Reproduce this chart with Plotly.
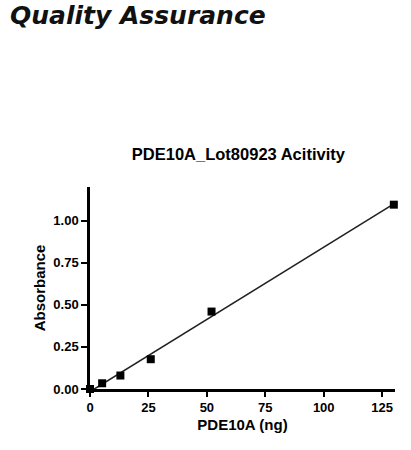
import numpy as np
import plotly.graph_objects as go

# PDE10A amount (ng) vs absorbance
amount_ng = [0, 5.2, 13, 26, 52, 130]
absorbance = [0.0, 0.034, 0.08, 0.177, 0.46, 1.095]

x_ticks = [0, 25, 50, 75, 100, 125]
y_ticks = [0.0, 0.25, 0.5, 0.75, 1.0]

# linear fit drawn over the data range
slope, intercept = np.polyfit(amount_ng, absorbance, 1)
fit_x = [0, 130]
fit_y = [intercept + slope * v for v in fit_x]

fig = go.Figure()
fig.add_trace(go.Scatter(
    x=fit_x, y=fit_y, mode="lines",
    line=dict(color="#222222", width=1.6),
    hoverinfo="skip",
))
fig.add_trace(go.Scatter(
    x=amount_ng, y=absorbance, mode="markers",
    marker=dict(symbol="square", size=8, color="black"),
    cliponaxis=False,
))

axis_font = dict(family="Liberation Sans, Arial", size=13, color="black")
title_font = dict(family="Liberation Sans, Arial", size=15, color="black")

fig.update_layout(
    width=411, height=450,
    margin=dict(l=90, r=16, t=187, b=61),
    paper_bgcolor="white", plot_bgcolor="white",
    showlegend=False,
    font=dict(family="Liberation Sans, Arial", color="black"),
    title=dict(
        text="<b>PDE10A_Lot80923 Acitivity</b>",
        x=0.58, xanchor="center", y=1 - 154 / 450, yanchor="middle",
        font=dict(family="Liberation Sans, Arial", size=16.5, color="black"),
    ),
    annotations=[dict(
        text="<b><i>Quality Assurance</i></b>",
        xref="paper", yref="paper", x=-82 / 305, y=1 + (187 - 15) / 202,
        xanchor="left", yanchor="middle", showarrow=False,
        font=dict(family="DejaVu Sans, Verdana", size=25, color="#111111"),
    )],
)

fig.update_xaxes(
    range=[0, 130.5], tickvals=x_ticks, ticktext=[f"<b>{t}</b>" for t in x_ticks],
    showgrid=False, zeroline=False, showline=True, linecolor="black", linewidth=2.5,
    ticks="outside", ticklen=5, tickwidth=2, tickcolor="black",
    tickfont=axis_font,
    title=dict(text="<b>PDE10A (ng)</b>", font=title_font, standoff=6),
)
fig.update_yaxes(
    range=[0, 1.2], tickvals=y_ticks, ticktext=[f"<b>{t:.2f}</b>" for t in y_ticks],
    showgrid=False, zeroline=False, showline=True, linecolor="black", linewidth=2.5,
    ticks="outside", ticklen=6, tickwidth=2, tickcolor="black",
    tickfont=axis_font,
    title=dict(text="<b>Absorbance</b>", font=title_font, standoff=5),
)

# the page is photographed from its top-left corner, so drop the body margin
fig.write_html("out.html", config={"displayModeBar": False},
               post_script="document.body.style.margin='0';")
